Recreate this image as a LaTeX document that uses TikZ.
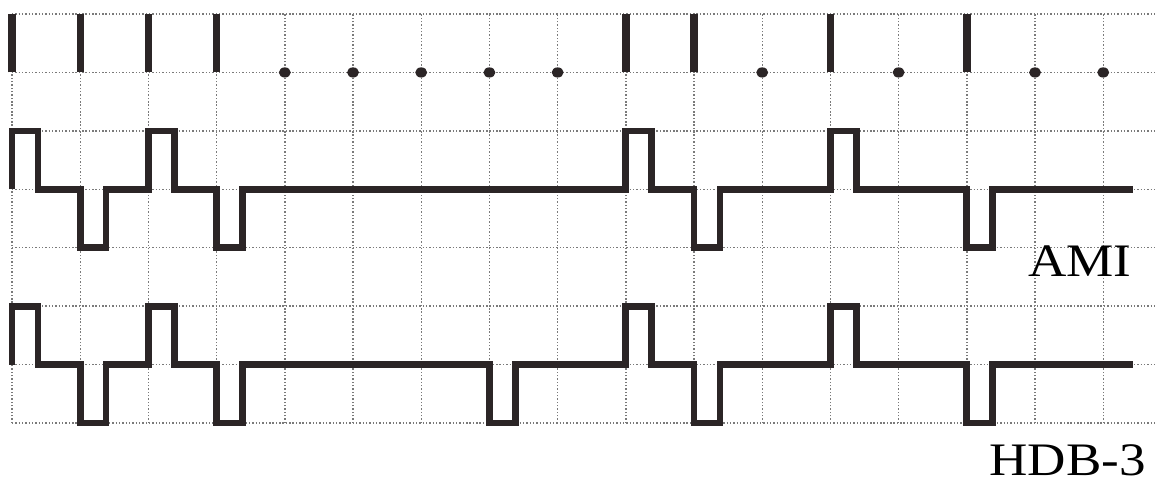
\documentclass[tikz,border=0pt]{standalone}
\usepackage{fontspec}
\setmainfont{Liberation Serif}
\usepackage{tikz}
\definecolor{WaveInk}{HTML}{2B2526}
\definecolor{GridDot}{HTML}{7A7A7A}

\begin{document}
\begin{tikzpicture}[x=1.364cm,y=1.1686cm,
  gridline/.style={GridDot,line width=0.8pt,dash pattern=on 0.8pt off 1.1pt},
  wave/.style={WaveInk,line width=3.8pt},
  onebar/.style={WaveInk,line width=4.2pt},
  codename/.style={font=\fontsize{26.5}{30}\selectfont,inner sep=0pt,xscale=1.14,anchor=base east}]
\path[use as bounding box] (-0.176,-1.027) rectangle (16.774,7.240);
% grid
\foreach \r in {0,...,7}
  \draw[gridline] (0,\r) -- (16.774,\r);
\foreach \c in {0,...,16}
  \draw[gridline] (\c,0) -- (\c,7);
% data bits
\foreach \c in {0,1,2,3,9,10,12,14}
  \draw[onebar] (\c,6) -- (\c,7);
\foreach \c in {4,...,8,11,13,15,16}
  \fill[WaveInk] (\c,6) ellipse [x radius=3.4pt,y radius=2.9pt];
% AMI
\draw[wave] (0,4) foreach \c/\s in {0/1,1/-1,2/1,3/-1,9/1,10/-1,12/1,14/-1}
  { -- (\c,4) -- (\c,4+\s) -- (\c+0.38,4+\s) -- (\c+0.38,4) } -- (16.44,4);
\node[codename] (ami) at (16.42,2.50) {AMI};
% HDB-3
\draw[wave] (0,1) foreach \c/\s in {0/1,1/-1,2/1,3/-1,7/-1,9/1,10/-1,12/1,14/-1}
  { -- (\c,1) -- (\c,1+\s) -- (\c+0.38,1+\s) -- (\c+0.38,1) } -- (16.44,1);
\node[codename] (hdb) at (16.63,-0.90) {HDB-3};
\end{tikzpicture}
\end{document}
